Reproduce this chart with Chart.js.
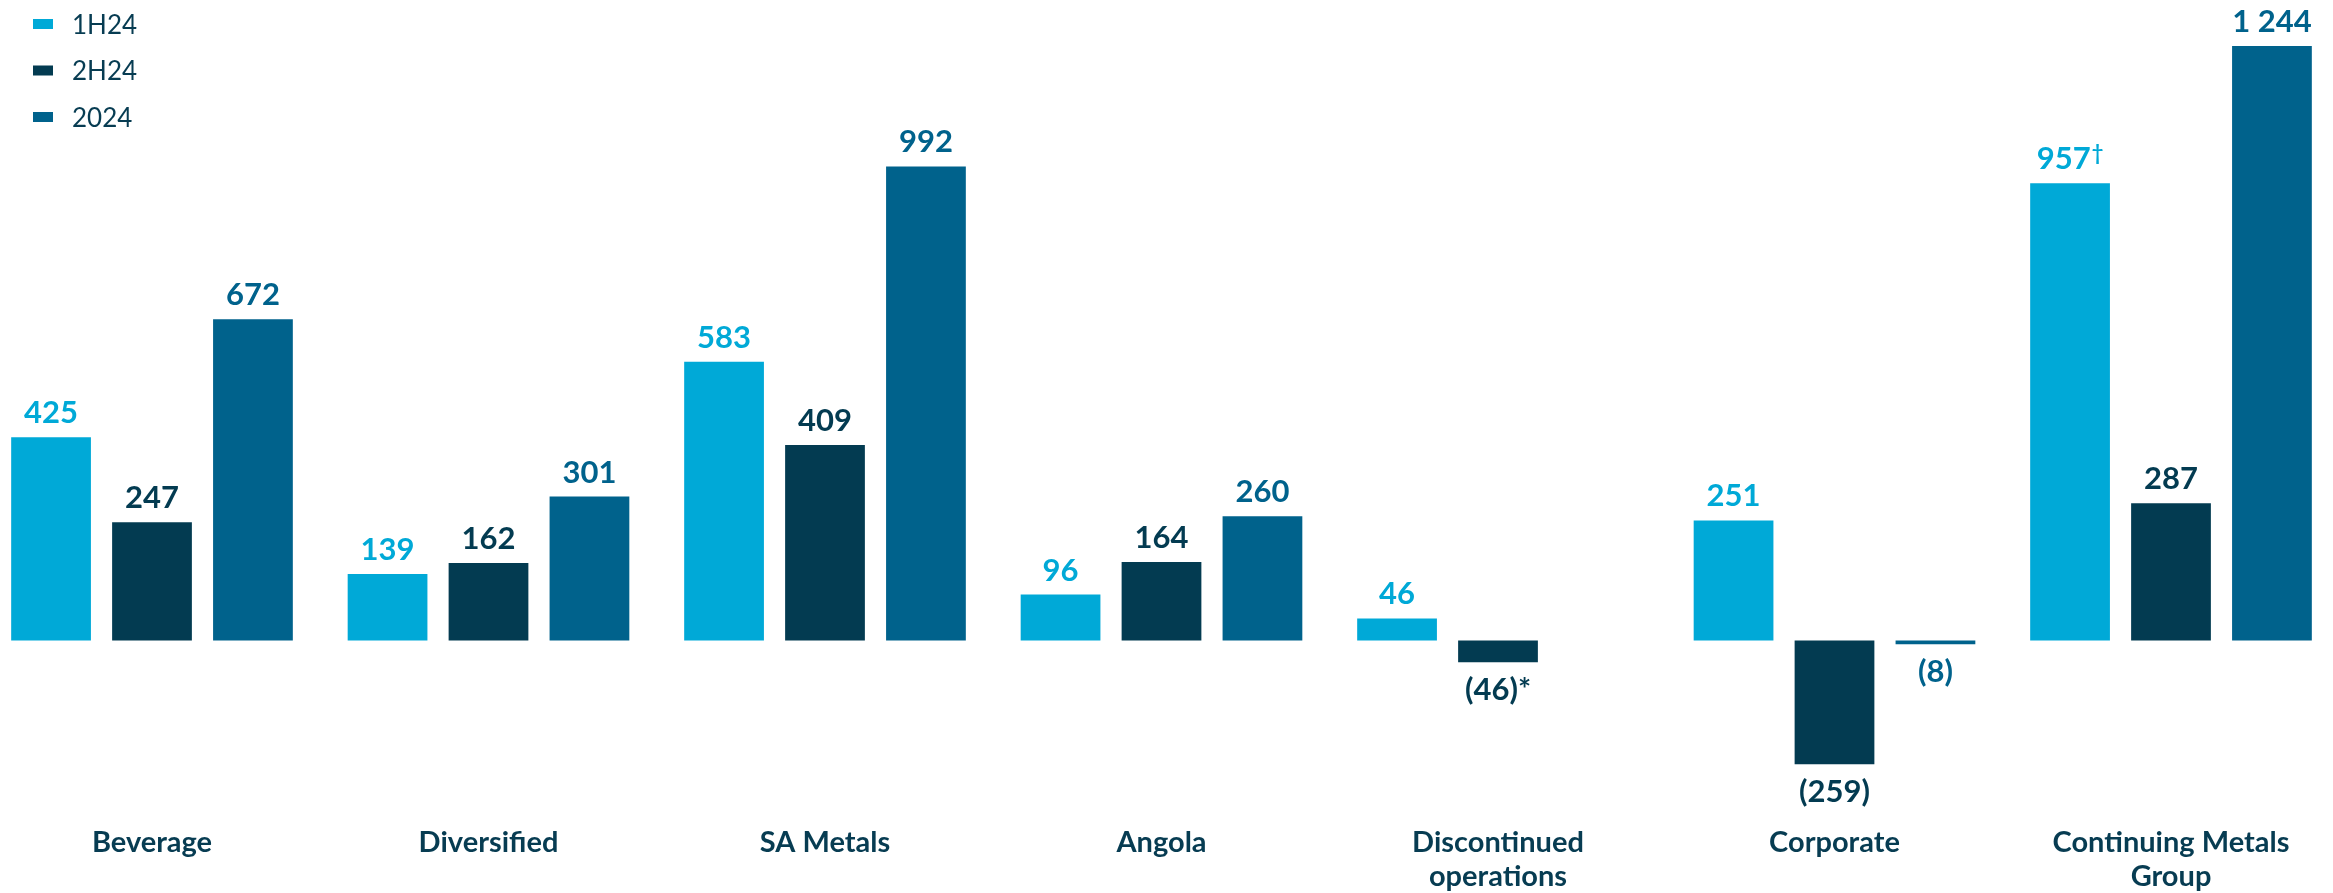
<!DOCTYPE html>
<html>
<head>
<meta charset="utf-8">
<script src="https://cdn.jsdelivr.net/npm/chart.js@4/dist/chart.umd.min.js"></script>
<style>
  html, body { margin: 0; padding: 0; background: #fff; }
  canvas { display: block; }
</style>
</head>
<body>
<canvas id="segments" width="2333" height="893"></canvas>
<script>
// segment figures, US$m
const categories = ['Beverage', 'Diversified', 'SA Metals', 'Angola', ['Discontinued', 'operations'], 'Corporate', ['Continuing Metals', 'Group']];
const seriesLabels = ['1H24', '2H24', '2024'];
const values1H24 = [425, 139, 583, 96, 46, 251, 957];
const values2H24 = [247, 162, 409, 164, -46, -259, 287];
const values2024 = [672, 301, 992, 260, null, -8, 1244];
const notes1H24 = ['', '', '', '', '', '', '†'];
const notes2H24 = ['', '', '', '', '*', '', ''];
const notes2024 = ['', '', '', '', '', '', ''];

const colors = ['#00A9D7', '#033B51', '#00628C'];
const textDark = '#073C52';
const FONT = 'Lato, "Noto Sans", sans-serif';

function fmt(v) {
    const s = String(Math.abs(v)).replace(/\B(?=(\d{3})+(?!\d))/g, ' ');
    return v < 0 ? '(' + s + ')' : s;
}

// value labels over / under each bar, in the bar's colour
const barLabels = {
    id: 'barLabels',
    afterDatasetsDraw(chart) {
        const ctx = chart.ctx;
        ctx.save();
        chart.data.datasets.forEach((ds, i) => {
            const meta = chart.getDatasetMeta(i);
            meta.data.forEach((el, j) => {
                const v = ds.data[j];
                if (v === null || v === undefined) return;
                const main = fmt(v);
                const note = ds.notes[j];
                const big = 'bold 31px ' + FONT;
                const small = 'bold 20px ' + FONT;
                ctx.font = big;
                const wMain = ctx.measureText(main).width;
                let wNote = 0;
                if (note === '†') { ctx.font = small; wNote = ctx.measureText(note).width + 1; }
                else if (note) { wNote = ctx.measureText(note).width; }
                const y = v >= 0 ? el.y - 14 : el.y + 38;
                let x = el.x - (wMain + wNote) / 2;
                ctx.fillStyle = ds.backgroundColor;
                ctx.textAlign = 'left';
                ctx.textBaseline = 'alphabetic';
                ctx.font = big;
                ctx.fillText(main, x, y);
                if (note === '†') {
                    ctx.font = small;
                    ctx.fillText(note, x + wMain + 1, y - 9);
                } else if (note) {
                    ctx.fillText(note, x + wMain, y);
                }
            });
        });
        ctx.restore();
    }
};

// stacked legend in the top-left corner
const cornerLegend = {
    id: 'cornerLegend',
    afterDraw(chart) {
        const ctx = chart.ctx;
        ctx.save();
        ctx.font = '26px ' + FONT;
        ctx.textAlign = 'left';
        ctx.textBaseline = 'alphabetic';
        chart.data.datasets.forEach((ds, i) => {
            const cy = 24 + i * 46.5;
            ctx.fillStyle = ds.backgroundColor;
            ctx.fillRect(33, cy - 5, 20, 10);
            ctx.fillStyle = textDark;
            ctx.fillText(ds.label, 72, cy + 9.5);
        });
        ctx.restore();
    }
};

new Chart(document.getElementById('segments').getContext('2d'), {
    type: 'bar',
    data: {
        labels: categories,
        datasets: [
            { label: seriesLabels[0], data: values1H24, notes: notes1H24, backgroundColor: colors[0], clip: false },
            { label: seriesLabels[1], data: values2H24, notes: notes2H24, backgroundColor: colors[1], clip: false },
            { label: seriesLabels[2], data: values2024, notes: notes2024, backgroundColor: colors[2], clip: false }
        ]
    },
    options: {
        responsive: false,
        animation: false,
        devicePixelRatio: 1,
        categoryPercentage: 0.9,
        barPercentage: 0.79,
        layout: { padding: { left: 152, right: 162, top: 19.25, bottom: -42 } },
        plugins: { legend: { display: false }, tooltip: { enabled: false } },
        scales: {
            x: {
                offset: false,
                grid: { display: false, drawTicks: false },
                border: { display: false },
                ticks: {
                    autoSkip: false, maxRotation: 0, padding: 42,
                    color: textDark,
                    font: { family: FONT, size: 29, weight: 'bold', lineHeight: 1.16 }
                }
            },
            y: { display: false, min: -300, max: 1300 }
        }
    },
    plugins: [barLabels, cornerLegend]
});
</script>
</body>
</html>
